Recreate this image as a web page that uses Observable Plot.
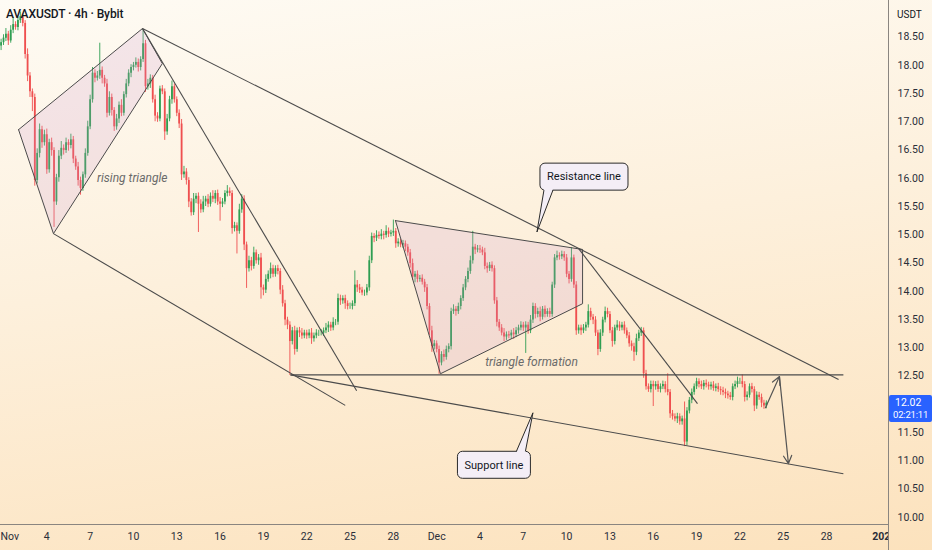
<!DOCTYPE html>
<html><head><meta charset="utf-8">
<script src="https://cdn.jsdelivr.net/npm/d3@7"></script>
<script src="https://cdn.jsdelivr.net/npm/@observablehq/plot@0.6"></script>
<style>
html,body{margin:0;padding:0;}
body{width:932px;height:550px;overflow:hidden;position:relative;
background:linear-gradient(172deg,#fefbf4 0%,#fdf0dc 45%,#fce2bd 100%);
font-family:Roboto,"Liberation Sans",sans-serif;}
#chart{position:absolute;left:0;top:0;}
#title{position:absolute;left:6px;top:7px;font-size:12px;font-weight:500;color:#131722;letter-spacing:-0.1px;}
#unit{position:absolute;left:897px;top:9px;font-size:10px;color:#131722;}
#lastbox{position:absolute;left:889px;width:43px;height:27px;background:#2962ff;border-radius:2px;color:#fff;font-size:10.5px;line-height:12px;padding-top:2px;box-sizing:border-box;text-align:left;padding-left:4px;white-space:nowrap;}
</style></head><body>
<div id="chart"></div>
<div id="title">AVAXUSDT · 4h · Bybit</div>
<div id="unit">USDT</div>
<div id="lastbox"><div id="lastp" style="padding-left:2px"></div><div id="cd" style="font-size:9.5px;letter-spacing:-0.2px"></div></div>
<script>
// ---------- data ----------
const firstCandle = "2025-10-31T20:00:00Z";
const firstOpen = 18.34;
const closes = [
18.40,
18.48,18.55,18.43,18.62,18.72,18.67,
18.79,18.86,18.74,18.19,17.81,17.53,
17.43,15.96,16.44,16.86,16.63,16.77,
16.15,16.63,16.49,15.58,16.01,16.39,
16.53,16.49,16.63,16.58,16.68,16.34,
16.20,15.96,15.82,16.06,16.44,16.91,
17.39,17.86,17.77,17.81,17.91,17.77,
17.67,17.15,17.43,17.20,16.91,17.05,
17.29,17.15,17.48,17.67,17.86,17.96,
18.00,18.05,17.96,18.10,18.38,17.62,
17.67,17.77,17.39,17.10,17.05,17.58,
17.53,16.82,17.05,17.39,17.62,17.39,
17.15,16.96,16.06,16.11,15.96,15.58,
15.39,15.63,15.68,15.54,15.44,15.58,
15.63,15.54,15.68,15.63,15.73,15.58,
15.54,15.58,15.73,15.77,15.73,15.11,
15.16,15.06,15.44,15.63,14.82,14.40,
14.54,14.44,14.68,14.54,14.59,14.06,
14.02,14.21,14.30,14.40,14.30,14.40,
14.35,14.02,13.78,13.49,13.40,13.11,
13.30,12.97,13.30,13.26,13.21,13.26,
13.21,13.26,13.16,13.21,13.26,13.26,
13.26,13.30,13.35,13.40,13.35,13.45,
13.45,13.87,13.83,13.87,13.78,13.73,
13.73,13.78,14.11,14.06,14.02,13.97,
13.97,14.06,14.54,14.97,14.94,14.99,
14.97,15.01,14.99,15.06,15.01,15.03,
15.06,14.84,14.87,14.82,14.84,14.78,
14.68,14.49,14.25,14.30,14.21,14.23,
14.16,14.06,13.73,13.30,13.02,13.07,
12.97,12.73,12.88,12.83,12.97,13.02,
13.64,13.68,13.64,13.73,13.87,14.06,
14.21,14.35,14.54,14.78,14.73,14.75,
14.73,14.68,14.44,14.40,14.46,14.40,
13.83,13.45,13.35,13.26,13.19,13.23,
13.21,13.26,13.23,13.30,13.35,13.40,
13.35,13.40,13.30,13.49,13.73,13.59,
13.64,13.54,13.68,13.59,13.64,13.59,
14.11,14.59,14.63,14.61,14.65,14.59,
14.30,14.21,14.59,14.11,13.30,13.35,
13.30,13.35,13.40,13.64,13.54,13.49,
13.26,12.97,13.26,13.49,13.64,13.59,
13.30,13.11,13.35,13.40,13.35,13.40,
13.30,13.21,13.07,13.02,12.92,13.16,
13.26,13.30,12.54,12.31,12.26,12.35,
12.31,12.35,12.26,12.31,12.35,12.26,
12.21,11.83,11.78,11.74,11.78,11.69,
11.74,11.33,11.88,12.07,12.21,12.31,
12.40,12.35,12.31,12.37,12.34,12.31,
12.34,12.28,12.31,12.26,12.24,12.21,
12.18,12.15,12.12,12.31,12.35,12.40,
12.40,12.35,12.12,12.16,12.31,12.26,
11.97,12.16,12.12,12.02,11.97,12.02
];
const wickUp = [
0.06,
0.06,0.10,0.05,0.08,0.12,0.05,
0.06,0.08,0.05,0.05,0.10,0.06,
0.05,0.06,0.08,0.10,0.06,0.08,
0.10,0.06,0.08,0.05,0.06,0.10,
0.12,0.06,0.08,0.05,0.10,0.06,
0.05,0.08,0.06,0.05,0.08,0.10,
0.08,0.10,0.06,0.08,0.48,0.06,
0.05,0.08,0.10,0.06,0.05,0.08,
0.06,0.10,0.05,0.08,0.06,0.05,
0.05,0.08,0.06,0.05,0.25,0.06,
0.08,0.06,0.05,0.08,0.06,0.05,
0.06,0.05,0.08,0.06,0.10,0.05,
0.05,0.06,0.08,0.10,0.06,0.05,
0.06,0.10,0.05,0.06,0.08,0.10,
0.05,0.08,0.06,0.10,0.05,0.06,
0.08,0.06,0.05,0.10,0.06,0.05,
0.06,0.05,0.10,0.08,0.06,0.05,
0.08,0.06,0.10,0.05,0.06,0.08,
0.05,0.08,0.06,0.10,0.06,0.05,
0.06,0.05,0.08,0.06,0.05,0.06,
0.06,0.08,0.05,0.06,0.08,0.05,
0.05,0.06,0.08,0.05,0.06,0.05,
0.06,0.05,0.08,0.06,0.05,0.08,
0.05,0.08,0.06,0.05,0.06,0.05,
0.06,0.05,0.25,0.08,0.06,0.05,
0.05,0.06,0.08,0.06,0.05,0.08,
0.06,0.08,0.05,0.10,0.06,0.05,
0.20,0.05,0.06,0.05,0.06,0.05,
0.05,0.06,0.08,0.05,0.06,0.05,
0.06,0.05,0.06,0.05,0.08,0.06,
0.05,0.06,0.05,0.08,0.06,0.05,
0.06,0.08,0.05,0.06,0.05,0.06,
0.05,0.06,0.08,0.28,0.05,0.06,
0.06,0.05,0.08,0.06,0.05,0.06,
0.05,0.06,0.05,0.06,0.08,0.05,
0.06,0.05,0.08,0.06,0.05,0.06,
0.05,0.06,0.05,0.08,0.06,0.05,
0.06,0.08,0.05,0.06,0.05,0.06,
0.05,0.06,0.08,0.05,0.06,0.05,
0.06,0.05,0.18,0.05,0.06,0.05,
0.05,0.06,0.05,0.12,0.06,0.05,
0.06,0.05,0.06,0.05,0.08,0.06,
0.05,0.06,0.05,0.08,0.06,0.05,
0.06,0.05,0.06,0.05,0.06,0.08,
0.05,0.06,0.05,0.06,0.05,0.06,
0.06,0.05,0.06,0.05,0.06,0.05,
0.28,0.05,0.06,0.05,0.06,0.05,
0.05,0.30,0.06,0.05,0.06,0.05,
0.06,0.05,0.06,0.05,0.06,0.05,
0.05,0.06,0.05,0.06,0.05,0.06,
0.06,0.05,0.06,0.05,0.06,0.08,
0.06,0.12,0.05,0.06,0.05,0.06,
0.05,0.06,0.05,0.06,0.05,0.04
];
const wickDn = [
0.08,
0.05,0.06,0.08,0.04,0.06,0.05,
0.06,0.05,0.06,0.08,0.10,0.10,
0.25,0.10,0.06,0.08,0.10,0.06,
0.08,0.06,0.10,0.45,0.06,0.08,
0.06,0.08,0.05,0.10,0.06,0.08,
0.06,0.10,0.12,0.05,0.06,0.05,
0.05,0.06,0.08,0.05,0.06,0.10,
0.06,0.08,0.05,0.10,0.08,0.06,
0.08,0.06,0.05,0.06,0.05,0.08,
0.06,0.05,0.08,0.06,0.05,0.10,
0.06,0.08,0.06,0.10,0.06,0.05,
0.05,0.15,0.06,0.05,0.08,0.06,
0.06,0.08,0.10,0.06,0.08,0.10,
0.06,0.05,0.08,0.50,0.06,0.05,
0.08,0.06,0.05,0.06,0.08,0.06,
0.30,0.06,0.05,0.06,0.05,0.10,
0.06,0.40,0.05,0.06,0.10,0.35,
0.06,0.08,0.05,0.06,0.08,0.20,
0.10,0.06,0.05,0.08,0.06,0.05,
0.06,0.08,0.06,0.10,0.08,0.60,
0.06,0.10,0.05,0.08,0.06,0.05,
0.06,0.05,0.10,0.06,0.05,0.06,
0.05,0.06,0.05,0.08,0.06,0.05,
0.06,0.05,0.08,0.06,0.10,0.06,
0.05,0.06,0.05,0.08,0.06,0.05,
0.06,0.05,0.06,0.05,0.08,0.06,
0.05,0.06,0.08,0.05,0.06,0.05,
0.06,0.08,0.06,0.05,0.06,0.08,
0.06,0.08,0.06,0.10,0.06,0.05,
0.05,0.08,0.06,0.08,0.10,0.06,
0.06,0.20,0.05,0.08,0.05,0.06,
0.06,0.05,0.08,0.05,0.06,0.05,
0.05,0.06,0.05,0.06,0.08,0.05,
0.06,0.05,0.06,0.08,0.05,0.06,
0.06,0.08,0.06,0.05,0.08,0.06,
0.05,0.06,0.08,0.05,0.06,0.05,
0.06,0.45,0.06,0.05,0.06,0.08,
0.06,0.08,0.05,0.06,0.05,0.06,
0.05,0.06,0.05,0.06,0.05,0.06,
0.06,0.08,0.05,0.06,0.08,0.06,
0.08,0.05,0.06,0.05,0.06,0.08,
0.06,0.11,0.05,0.06,0.05,0.06,
0.05,0.10,0.06,0.05,0.06,0.05,
0.06,0.05,0.06,0.08,0.16,0.06,
0.05,0.06,0.08,0.06,0.05,0.06,
0.35,0.06,0.05,0.06,0.05,0.06,
0.06,0.08,0.06,0.05,0.08,0.06,
0.06,0.08,0.06,0.05,0.06,0.05,
0.05,0.06,0.05,0.06,0.05,0.06,
0.06,0.05,0.06,0.05,0.08,0.06,
0.08,0.06,0.05,0.06,0.05,0.06,
0.05,0.06,0.08,0.06,0.05,0.06,
0.10,0.06,0.05,0.08,0.06,0.05
];
const priceTicks = [10,10.5,11,11.5,12.5,13,13.5,14,14.5,15,15.5,16,16.5,17,17.5,18,18.5];
const timeTicks = ["2025-11-01","2025-11-04","2025-11-07","2025-11-10","2025-11-13","2025-11-16","2025-11-19","2025-11-22","2025-11-25","2025-11-28","2025-12-01","2025-12-04","2025-12-07","2025-12-10","2025-12-13","2025-12-16","2025-12-19","2025-12-22","2025-12-25","2025-12-28","2026-01-01"];
const timeLabels = ["Nov","4","7","10","13","16","19","22","25","28","Dec","4","7","10","13","16","19","22","25","28","2026"];
// drawings (time, price)
const risingTriangle = [["2025-11-02T01:00Z",16.86],["2025-11-10T15:00Z",18.65],["2025-11-12T00:00Z",18.03],["2025-11-04T11:00Z",15.02],["2025-11-02T01:00Z",16.86]];
const triangleFormation = [["2025-11-28T03:30Z",15.25],["2025-12-11T02:30Z",14.74],["2025-12-11T02:30Z",13.78],["2025-12-01T06:15Z",12.54],["2025-11-28T03:30Z",15.25]];
const trendLines = [
  {t1:"2025-11-10T15:00Z",p1:18.65,t2:"2025-11-25T11:00Z",p2:12.24},
  {t1:"2025-11-04T11:00Z",p1:15.02,t2:"2025-11-24T16:00Z",p2:11.98},
  {t1:"2025-11-10T15:00Z",p1:18.65,t2:"2025-12-28T20:00Z",p2:12.44},
  {t1:"2025-11-20T21:00Z",p1:12.52,t2:"2025-12-29T04:00Z",p2:12.52},
  {t1:"2025-11-20T21:00Z",p1:12.52,t2:"2025-12-29T04:00Z",p2:10.77},
  {t1:"2025-12-10T19:40Z",p1:14.76,t2:"2025-12-19T01:30Z",p2:12.01}
];
const arrows = [
  {t1:"2025-12-23T18:30Z",p1:11.94,t2:"2025-12-24T17:45Z",p2:12.49},
  {t1:"2025-12-24T17:45Z",p1:12.49,t2:"2025-12-25T08:40Z",p2:10.95}
];
const patternLabels = [
  {t:"2025-11-09T22:00Z",p:16.01,label:"rising triangle"},
  {t:"2025-12-07T13:40Z",p:12.74,label:"triangle formation"}
];
const callouts = [
  {label:"Resistance line",t:"2025-12-11T05:40Z",p:16.02,tipT:"2025-12-07T23:30Z",tipP:15.04},
  {label:"Support line",t:"2025-12-05T00:00Z",p:10.92,tipT:"2025-12-07T16:50Z",tipP:11.84}
];
const lastPrice = "12.02", countdown = "02:21:11";

// ---------- build ----------
const H4 = 4 * 3600 * 1000, t0 = Date.parse(firstCandle);
const candles = closes.map((c, i) => {
  const o = i === 0 ? firstOpen : closes[i - 1];
  return {t: new Date(t0 + i * H4), o, c, h: Math.max(o, c) + wickUp[i], l: Math.min(o, c) - wickDn[i]};
});
const up = candles.filter(d => d.c >= d.o), dn = candles.filter(d => d.c < d.o);
const UP = "#2f9e52", DN = "#ef4f4f", INK = "#4b4b4b", FILL = "rgba(205,150,205,0.20)";
const T = s => new Date(s);
const labelOf = new Map(timeTicks.map((d, i) => [+new Date(d + "T00:00:00Z"), timeLabels[i]]));
const FONT = "Roboto, 'Liberation Sans', sans-serif";

const chart = Plot.plot({
  width: 932, height: 550,
  marginLeft: 0, marginRight: 44, marginTop: 0, marginBottom: 26,
  style: {background: "transparent", fontFamily: FONT, overflow: "visible"},
  x: {type: "utc", label: null, domain: [new Date("2025-10-31T19:00:00Z"), new Date("2026-01-01T07:00:00Z")]},
  y: {label: null, domain: [9.872, 19.146]},
  marks: [
    Plot.ruleX(up, {x: "t", y1: "l", y2: "h", stroke: UP, strokeWidth: 0.9}),
    Plot.ruleX(up, {x: "t", y1: "o", y2: "c", stroke: UP, strokeWidth: 1.8}),
    Plot.ruleX(dn, {x: "t", y1: "l", y2: "h", stroke: DN, strokeWidth: 0.9}),
    Plot.ruleX(dn, {x: "t", y1: "o", y2: "c", stroke: DN, strokeWidth: 1.8}),
    Plot.line(risingTriangle, {x: d => T(d[0]), y: d => d[1], fill: FILL, stroke: INK, strokeWidth: 1}),
    Plot.line(triangleFormation, {x: d => T(d[0]), y: d => d[1], fill: FILL, stroke: INK, strokeWidth: 1}),
    Plot.link(trendLines, {x1: d => T(d.t1), y1: "p1", x2: d => T(d.t2), y2: "p2", stroke: INK, strokeWidth: 1.1}),
    Plot.arrow(arrows, {x1: d => T(d.t1), y1: "p1", x2: d => T(d.t2), y2: "p2", stroke: "#555", strokeWidth: 1.2, headLength: 11, headAngle: 55}),
    Plot.text(patternLabels, {x: d => T(d.t), y: "p", text: "label", fontStyle: "italic", fill: "#6a6a6a", fontSize: 12}),
    Plot.axisY(priceTicks, {anchor: "right", label: null, tickSize: 0, tickPadding: 9, tickFormat: d => d.toFixed(2), fontSize: 10.5, fill: "#2a2e39"}),
    Plot.axisX(timeTicks.map(d => new Date(d + "T00:00:00Z")), {label: null, tickSize: 0, tickPadding: 8, tickFormat: d => labelOf.get(+d), fontSize: 10.5, fill: "#2a2e39"})
  ]
});
document.getElementById("chart").appendChild(chart);

const svg = d3.select(chart);
const xs = chart.scale("x"), ys = chart.scale("y");
const X = s => xs.apply(new Date(s)), Y = p => ys.apply(p);

// time labels: keep first fully visible, clip the year label behind the price panel
svg.append("defs").append("clipPath").attr("id", "tclip").append("rect").attr("x", 0).attr("y", 0).attr("width", 888).attr("height", 550);
svg.selectAll('g[aria-label="x-axis tick label"]').attr("clip-path", "url(#tclip)");
svg.selectAll('g[aria-label="x-axis tick label"] text').each(function () {
  const s = d3.select(this);
  if (this.textContent === "2026") s.attr("font-weight", "bold");
  if (this.textContent === "Nov") s.attr("text-anchor", "start").attr("dx", "-3");
});

// panel borders
svg.append("line").attr("x1", 888.5).attr("x2", 888.5).attr("y1", 0).attr("y2", 550).attr("stroke", "#8a8580").attr("stroke-width", 1);
svg.append("line").attr("x1", 0).attr("x2", 888).attr("y1", 524.5).attr("y2", 524.5).attr("stroke", "#8a8580").attr("stroke-width", 1);

// callouts
for (const c of callouts) {
  const g = svg.append("g").attr("font-family", FONT);
  const cx = X(c.t), cy = Y(c.p), tx = X(c.tipT), ty = Y(c.tipP);
  const txt = g.append("text").attr("x", cx).attr("y", cy).attr("dy", "0.35em").attr("text-anchor", "middle")
    .attr("font-size", 11).attr("fill", "#131722").text(c.label);
  const bb = txt.node().getBBox();
  const w = bb.width + 14, h = 27, left = cx - w / 2, top = cy - h / 2;
  const below = ty > cy;
  let b1, b2, by;
  if (below) { b1 = left + 4; b2 = left + 13; by = top + h; }
  else { b1 = left + w - 14; b2 = left + w - 5; by = top; }
  g.insert("rect", "text").attr("x", left).attr("y", top).attr("width", w).attr("height", h).attr("rx", 5)
    .attr("fill", "#f4eef6").attr("stroke", "#2a2a2a").attr("stroke-width", 1);
  const inset = below ? -1.5 : 1.5;
  g.insert("path", "text").attr("d", `M${b1},${by + inset}L${tx},${ty}L${b2},${by + inset}Z`).attr("fill", "#f4eef6");
  g.insert("path", "text").attr("d", `M${b1},${by}L${tx},${ty}L${b2},${by}`).attr("fill", "none").attr("stroke", "#2a2a2a").attr("stroke-width", 1);
}

// last price label (HTML overlay positioned with the y scale)
const lp = Y(closes[closes.length - 1]);
const box = document.getElementById("lastbox");
box.style.top = (lp - 8) + "px";
document.getElementById("lastp").textContent = lastPrice;
document.getElementById("cd").textContent = countdown;
</script>
</body></html>
